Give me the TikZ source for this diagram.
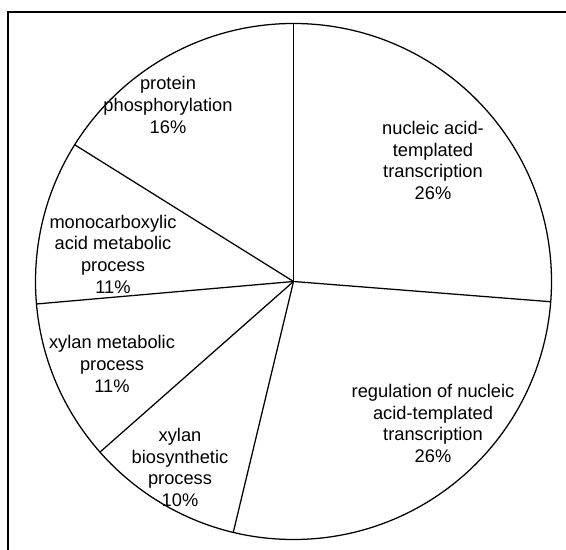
\documentclass[tikz,border=0pt]{standalone}
\usepackage{fontspec}
\setmainfont{Liberation Sans}
\usepackage{tikz}
\usetikzlibrary{calc}

\tikzset{
	slicelabel/.style={align=center, font=\fontsize{13}{15.4}\selectfont},
	edge/.style={line width=0.9pt}
}

\begin{document}
\begin{tikzpicture}
			\useasboundingbox (0, 0) rectangle (14.15, 13.75);
			\draw [line width=1pt] (0.2, 0) -- (0.2, 13.45) -- (14.15, 13.45);
			\coordinate (centre) at (7.3375, 6.7125);
			\draw [edge] (centre) circle (6.45);
			\draw [edge] (centre) -- ++(90:6.45);
			\draw [edge] (centre) -- ++(-4.5:6.45);
			\draw [edge] (centre) -- ++(-103.5:6.45);
			\draw [edge] (centre) -- ++(221.4:6.45);
			\draw [edge] (centre) -- ++(185:6.45);
			\draw [edge] (centre) -- ++(148:6.45);
			\node[slicelabel] (nucleic) at (10.825, 9.74) {nucleic acid-\\templated\\transcription\\26\%};
			\node[slicelabel] (regulation) at (10.825, 3.16) {regulation of nucleic\\acid-templated\\transcription\\26\%};
			\node[slicelabel] (biosynth) at (4.5, 2.06) {xylan\\biosynthetic\\process\\10\%};
			\node[slicelabel] (xylanmet) at (2.8, 4.65) {xylan metabolic\\process\\11\%};
			\node[slicelabel] (monocarb) at (2.825, 7.4) {monocarboxylic\\acid metabolic\\process\\11\%};
			\node[slicelabel] (protein) at (4.2, 11.125) {protein\\phosphorylation\\16\%};
		\end{tikzpicture}
\end{document}
